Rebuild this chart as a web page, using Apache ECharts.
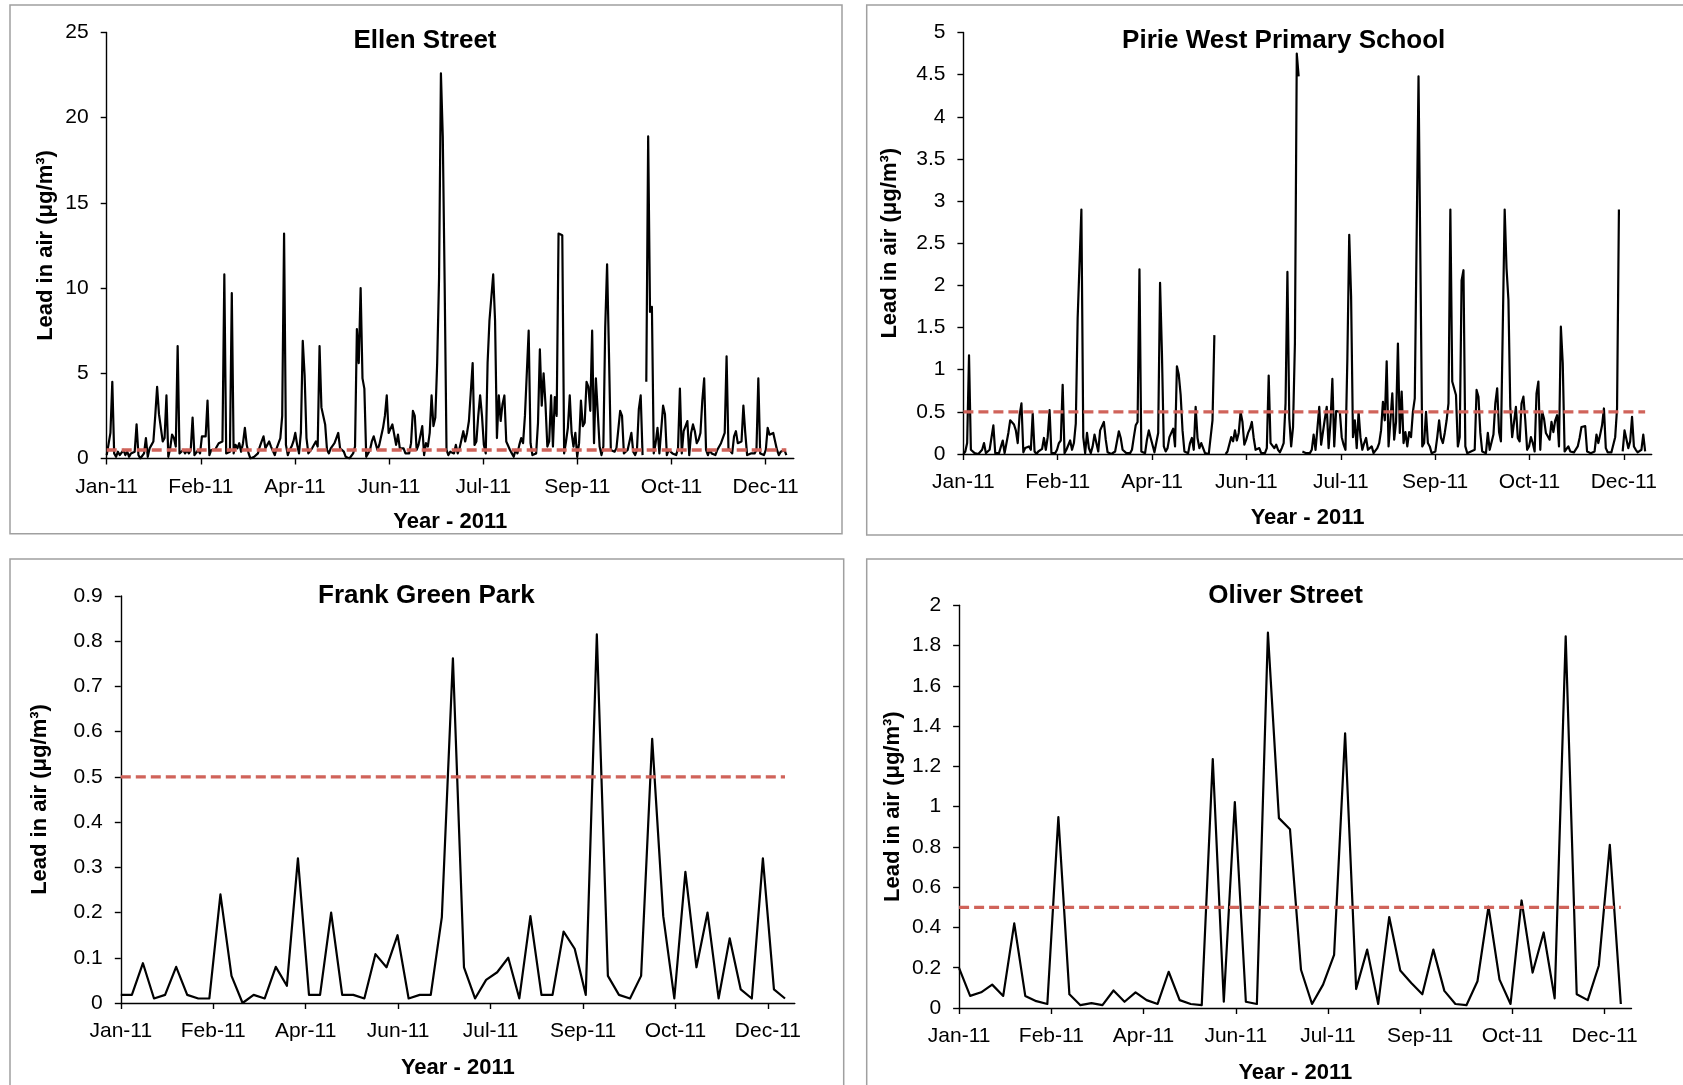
<!DOCTYPE html>
<html>
<head>
<meta charset="utf-8">
<script src="https://cdn.jsdelivr.net/npm/echarts@6/dist/echarts.min.js"></script>
<style>
html,body{margin:0;padding:0;background:#fff;}
#c{width:1683px;height:1085px;}
</style>
</head>
<body>
<div id="c"></div>
<script>
// ---------- DATA ----------
const tickLabels = ['Jan-11', 'Feb-11', 'Apr-11', 'Jun-11', 'Jul-11', 'Sep-11', 'Oct-11', 'Dec-11'];
const yAxisTitle = 'Lead in air (\u03bcg/m\u00b3)';
const xAxisTitle = 'Year - 2011';
const threshold = 0.5;          // guideline value (µg/m³)
const sampleStepDays = 6;       // Frank Green Park / Oliver Street sampled every 6 days

// Ellen Street – daily values, day 0 = 1 Jan 2011
const ellenStreet = [
  0.2,0.3,1.5,4.5,0.3,0.1,0.4,0.2,0.3,0.5,
  0.2,0.4,0.1,0.3,0.2,0.4,2.0,0.2,0.0,0.1,
  0.3,1.2,0.1,0.6,0.8,1.0,2.5,4.2,2.6,2.6,
  1.0,1.2,3.7,0.1,0.6,1.4,1.2,0.7,6.6,0.3,
  0.4,0.5,0.3,0.5,0.3,0.5,2.4,0.2,0.3,0.5,
  0.3,1.3,1.2,1.3,3.4,0.2,0.5,0.6,0.5,0.7,
  0.9,1.0,1.0,10.8,0.3,0.3,0.4,9.7,0.3,0.8,
  0.6,0.9,0.4,0.9,1.8,0.8,0.3,0.0,0.0,0.1,
  0.0,0.3,0.7,1.0,1.3,0.6,0.8,1.0,0.7,0.6,
  0.2,0.6,0.5,1.2,2.5,13.2,0.8,0.2,0.5,0.7,
  1.0,1.5,0.8,0.3,1.5,6.9,4.9,1.2,0.3,0.2,
  0.6,0.5,1.0,0.7,6.6,3.0,2.5,2.0,0.5,0.3,
  0.6,0.5,0.9,1.2,1.5,0.6,0.7,0.4,0.1,0.0,
  0.0,0.1,0.3,0.7,7.6,5.6,10.0,4.7,4.1,0.1,
  0.3,0.5,1.0,1.3,1.4,0.5,0.8,1.3,1.8,2.5,
  3.7,1.5,1.4,2.0,2.0,0.8,1.4,0.6,0.5,0.6,
  0.3,0.4,0.3,0.9,2.8,2.5,0.5,0.8,0.8,1.9,
  0.2,0.9,0.7,1.5,3.7,1.9,2.4,5.6,10.6,22.6,
  18.9,10.3,0.5,0.2,0.4,0.5,0.3,0.8,0.3,0.6,
  0.6,1.6,1.0,1.5,2.2,2.3,5.6,0.8,1.0,2.5,
  3.7,2.5,0.8,0.3,5.6,8.1,8.2,10.8,8.1,1.2,
  3.7,2.2,3.2,3.7,1.0,1.0,0.5,0.3,0.1,0.5,
  0.3,0.8,1.2,0.9,2.5,2.6,7.5,0.9,0.2,0.3,
  0.3,2.1,6.4,3.1,5.0,3.2,0.7,1.0,3.7,0.7,
  3.6,2.5,13.2,13.2,13.1,0.3,1.0,1.8,3.7,1.5,
  0.7,1.5,0.1,0.9,3.4,1.9,2.1,4.5,4.2,2.8,
  7.5,0.9,4.7,4.7,0.7,0.2,0.7,7.7,11.4,6.2,
  0.5,0.5,0.4,0.6,0.6,2.8,2.5,0.3,0.2,0.5,
  0.4,1.5,0.4,0.2,0.5,2.9,3.7,0.2,null,4.5,
  18.9,8.6,8.9,0.3,0.9,1.8,0.3,0.3,3.1,2.6,
  0.2,0.5,0.5,0.3,0.2,0.2,0.6,4.1,0.3,1.6,
  1.5,2.2,0.2,1.5,2.0,1.6,0.9,1.1,1.5,3.4,
  4.7,0.5,0.2,0.5,0.3,0.4,0.2,0.5,0.4,0.9,
  0.9,1.5,6.0,0.6,0.7,0.3,1.3,1.6,0.9,0.9,
  1.0,3.1,1.5,0.2,0.2,0.3,0.3,0.3,0.5,4.7,
  0.3,0.3,0.2,0.5,1.8,1.4,1.4,1.5,1.4,0.5,
  0.2,0.4,0.3,0.5,0.2
];

// Pirie West Primary School – daily values
const pirieWest = [
  0.0,0.03,0.13,1.17,0.05,0.05,0.01,0.02,0.0,0.02,
  0.05,0.13,0.01,0.0,0.05,0.05,0.34,0.01,0.01,0.01,
  0.01,0.16,0.01,0.01,0.25,0.4,0.42,0.35,0.28,0.13,
  0.46,0.6,0.02,0.07,0.05,0.09,0.05,0.48,0.03,0.0,
  0.03,0.02,0.06,0.19,0.05,0.2,0.52,0.01,0.01,0.01,
  0.05,0.13,0.16,0.82,0.01,0.05,0.05,0.16,0.05,0.13,
  0.36,1.61,1.61,2.9,0.2,0.01,0.25,0.07,0.01,0.09,
  0.23,0.23,0.03,0.28,0.3,0.38,0.17,0.02,0.01,0.0,
  0.0,0.03,0.01,0.27,0.19,0.05,0.03,0.01,0.01,0.01,
  0.05,0.2,0.34,0.38,2.19,0.03,0.01,0.01,0.17,0.28,
  0.19,0.19,0.02,0.01,0.25,2.03,1.2,0.09,0.03,0.07,
  0.2,0.25,0.3,0.09,1.04,0.94,0.7,0.28,0.03,0.01,
  0.01,0.13,0.19,0.05,0.56,0.19,0.07,0.13,0.11,0.01,
  0.01,0.0,0.01,0.4,1.41,null,null,null,null,null,
  0.0,0.03,0.05,0.2,0.15,0.28,0.16,0.25,0.5,0.38,
  0.11,0.17,0.25,0.3,0.38,0.19,0.05,0.03,0.07,0.01,
  0.01,0.01,0.07,0.93,0.13,0.11,0.07,0.11,0.05,0.02,
  0.07,0.13,0.6,2.16,0.42,0.09,0.32,1.31,4.75,4.48,
  null,0.03,0.02,0.01,0.0,0.01,0.05,0.23,0.05,0.3,
  0.56,0.11,0.13,0.42,0.56,0.07,0.38,0.89,0.09,0.51,
  0.49,0.5,0.2,0.11,0.05,1.12,2.6,1.87,0.2,0.4,
  0.07,0.5,0.2,0.05,0.13,0.19,0.05,0.05,0.09,0.01,
  0.02,0.07,0.13,0.28,0.62,0.4,1.1,0.09,0.4,0.72,
  0.17,0.38,1.31,0.25,0.74,0.13,0.26,0.09,0.26,0.2,
  0.5,0.66,0.68,4.48,4.46,0.09,0.13,0.5,0.13,0.09,
  0.01,0.01,0.03,0.2,0.4,0.19,0.13,0.25,0.4,0.6,
  2.9,0.86,0.84,0.7,0.09,0.2,2.06,2.18,0.09,0.01,
  0.01,0.03,0.02,0.05,0.76,0.68,0.25,0.03,0.01,0.01,
  0.25,0.05,0.05,0.23,0.6,0.78,0.26,0.15,0.17,2.9,
  2.2,1.83,0.56,0.2,0.19,0.56,0.19,0.15,0.6,0.68,
  0.4,0.05,0.09,0.2,0.13,0.03,0.72,0.86,0.05,0.5,
  0.42,0.25,0.21,0.17,0.38,0.26,0.4,0.46,0.09,1.51,
  1.08,0.03,0.01,0.09,0.03,0.03,0.02,0.01,0.09,0.19,
  0.32,0.34,0.33,0.03,0.01,0.01,0.0,0.03,0.23,0.13,
  0.23,0.34,0.54,0.07,0.02,0.01,0.02,0.01,0.2,0.54,
  2.9,null,0.03,0.28,0.28,0.07,0.15,0.44,0.09,0.05,
  0.02,0.01,0.05,0.23,0.03
];

// Frank Green Park – one sample every 6 days
const frankGreenPark = [
  0.018,0.018,0.088,0.01,0.018,0.08,0.018,0.01,0.01,0.24,
  0.06,0.0,0.018,0.01,0.08,0.038,0.32,0.018,0.018,0.2,
  0.018,0.018,0.01,0.108,0.079,0.15,0.01,0.018,0.018,0.19,
  0.762,0.079,0.01,0.051,0.068,0.1,0.01,0.192,0.018,0.018,
  0.158,0.12,0.018,0.815,0.06,0.018,0.01,0.06,0.584,0.192,
  0.01,0.29,0.079,0.2,0.01,0.143,0.03,0.01,0.32,0.03,
  0.01
];

// Oliver Street – one sample every 6 days
const oliverStreet = [
  0.198,0.06,0.078,0.116,0.06,0.42,0.06,0.034,0.02,0.948,
  0.068,0.014,0.024,0.014,0.087,0.031,0.078,0.039,0.02,0.18,
  0.039,0.02,0.014,1.236,0.031,1.023,0.031,0.02,1.864,0.943,
  0.888,0.19,0.02,0.116,0.264,1.364,0.094,0.29,0.02,0.452,
  0.186,0.124,0.068,0.29,0.085,0.02,0.014,0.133,0.503,0.141,
  0.02,0.534,0.176,0.375,0.048,1.846,0.068,0.039,0.21,0.81,
  0.02
];

// ---------- LAYOUT / STYLE ----------
const FONT = "'Liberation Sans', Arial, Helvetica, sans-serif";
const panels = [
  { title: 'Ellen Street', values: ellenStreet, step: 1, yMax: 25, yStep: 5,
    xMax: 368, xStep: 50.42, grid: { left: 106.7, top: 32.5, width: 687.1, height: 426 },
    tx: 425, ty: 41, yGap: 50, xGap: 52 },
  { title: 'Pirie West Primary School', values: pirieWest, step: 1, yMax: 5, yStep: 0.5,
    xMax: 367.5, xStep: 50.37, grid: { left: 963.4, top: 32.5, width: 688.3, height: 421.5 },
    tx: 1283.7, ty: 41, yGap: 62, xGap: 52.5 },
  { title: 'Frank Green Park', values: frankGreenPark, step: sampleStepDays, yMax: 0.9, yStep: 0.1,
    xMax: 365.3, xStep: 50.1, grid: { left: 120.8, top: 596, width: 674, height: 407 },
    tx: 426.4, ty: 595.5, yGap: 70, xGap: 54 },
  { title: 'Oliver Street', values: oliverStreet, step: sampleStepDays, yMax: 2, yStep: 0.2,
    xMax: 365.8, xStep: 50.17, grid: { left: 959.1, top: 605.3, width: 672.4, height: 403.9 },
    tx: 1285.6, ty: 595.5, yGap: 55, xGap: 54 }
];

const AXIS_COLOR = '#000';
const option = {
  animation: false,
  backgroundColor: '#fff',
  grid: panels.map(p => Object.assign({ containLabel: false }, p.grid)),
  xAxis: panels.map((p, i) => {
    const ticks = tickLabels.map((_, k) => k * p.xStep);
    return {
      gridIndex: i, type: 'value', min: 0, max: p.xMax,
      name: xAxisTitle, nameLocation: 'middle', nameGap: p.xGap,
      nameTextStyle: { fontFamily: FONT, fontWeight: 'bold', fontSize: 22, color: '#000' },
      axisLine: { show: true, onZero: false, lineStyle: { color: AXIS_COLOR, width: 1.4 } },
      axisTick: { show: true, inside: false, length: 6, customValues: ticks,
                  lineStyle: { color: AXIS_COLOR, width: 1.4 } },
      axisLabel: { show: true, customValues: ticks, margin: 18,
                   fontFamily: FONT, fontSize: 21, color: '#000',
                   formatter: v => tickLabels[Math.round(v / p.xStep)] || '' },
      splitLine: { show: false }
    };
  }),
  yAxis: panels.map((p, i) => ({
    gridIndex: i, type: 'value', min: 0, max: p.yMax, interval: p.yStep,
    name: yAxisTitle, nameLocation: 'middle', nameGap: p.yGap, nameRotate: 90,
    nameTextStyle: { fontFamily: FONT, fontWeight: 'bold', fontSize: 22, color: '#000' },
    axisLine: { show: true, lineStyle: { color: AXIS_COLOR, width: 1.4 } },
    axisTick: { show: true, inside: false, length: 6, lineStyle: { color: AXIS_COLOR, width: 1.4 } },
    axisLabel: { show: true, margin: 18, fontFamily: FONT, fontSize: 21, color: '#000' },
    splitLine: { show: false }
  })),
  series: [].concat(
    panels.map((p, i) => ({
      type: 'line', xAxisIndex: i, yAxisIndex: i, symbol: 'none', connectNulls: false,
      lineStyle: { color: '#000', width: 2.2, join: 'round' },
      data: p.values.map((v, k) => [k * p.step, v === null ? '-' : v]),
      z: 2
    })),
    panels.map((p, i) => ({
      type: 'line', xAxisIndex: i, yAxisIndex: i, symbol: 'none',
      lineStyle: { color: '#d0635a', width: 3.4, type: [10, 5] },
      data: [[0, threshold], [(p.values.length - 1) * p.step, threshold]],
      z: 3
    }))
  ),
  graphic: [
    { type: 'rect', shape: { x: 10, y: 5, width: 832, height: 528.7 },
      style: { fill: 'none', stroke: '#a0a0a0', lineWidth: 1.5 }, silent: true },
    { type: 'rect', shape: { x: 866.7, y: 5, width: 840, height: 530 },
      style: { fill: 'none', stroke: '#a0a0a0', lineWidth: 1.5 }, silent: true },
    { type: 'rect', shape: { x: 10, y: 559, width: 833.7, height: 620 },
      style: { fill: 'none', stroke: '#a0a0a0', lineWidth: 1.5 }, silent: true },
    { type: 'rect', shape: { x: 866.7, y: 559, width: 840, height: 620 },
      style: { fill: 'none', stroke: '#a0a0a0', lineWidth: 1.5 }, silent: true }
  ].concat(panels.map(p => ({
    type: 'text', x: p.tx, y: p.ty, silent: true,
    style: { text: p.title, fill: '#000', font: "bold 26px 'Liberation Sans', Arial, sans-serif",
             align: 'center', verticalAlign: 'middle', textAlign: 'center', textVerticalAlign: 'middle' }
  })))
};

const chart = echarts.init(document.getElementById('c'), null, { renderer: 'canvas' });
chart.setOption(option);
</script>
</body>
</html>
